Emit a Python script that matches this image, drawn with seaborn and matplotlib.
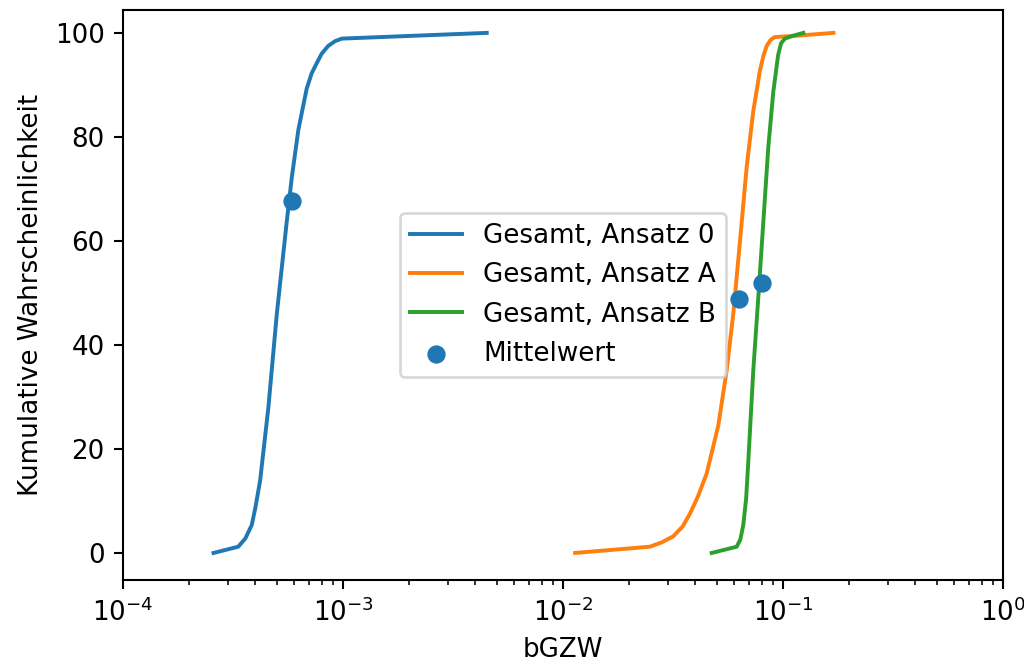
import matplotlib
matplotlib.use("Agg")
import matplotlib.pyplot as plt
import seaborn as sns

# Cumulative distributions of bGZW for the three approaches
x_ansatz0 = [2.58e-4, 3.34e-4, 3.6e-4, 3.85e-4, 4.0e-4, 4.2e-4, 4.58e-4, 5.0e-4,
             5.55e-4, 5.85e-4, 6.27e-4, 6.84e-4, 7.2e-4, 7.6e-4, 8.0e-4, 8.57e-4,
             9.2e-4, 9.87e-4, 4.5e-3]
y_ansatz0 = [0, 1.2, 2.8, 5.4, 8.8, 13.9, 28, 45.9, 63.7, 72.2, 81.4, 89.3, 92.2,
             94.2, 96.0, 97.5, 98.4, 98.9, 100]

x_ansatzA = [1.135e-2, 2.48e-2, 2.8e-2, 3.17e-2, 3.5e-2, 3.77e-2, 4.1e-2, 4.5e-2,
             5.08e-2, 5.55e-2, 5.94e-2, 6.38e-2, 6.84e-2, 7.33e-2, 7.86e-2, 8.15e-2,
             8.43e-2, 8.8e-2, 9.2e-2, 0.111, 0.1695]
y_ansatzA = [0, 1.2, 2.0, 3.2, 5.1, 7.5, 10.8, 15.3, 24.5, 35.2, 45.9, 60.1, 74.3,
             85, 92.8, 95.6, 97.5, 98.7, 99.2, 99.4, 100]

x_ansatzB = [4.74e-2, 6.16e-2, 6.4e-2, 6.6e-2, 6.8e-2, 6.95e-2, 7.33e-2, 7.73e-2,
             8.14e-2, 8.57e-2, 9.03e-2, 9.5e-2, 9.8e-2, 0.102, 0.11, 0.1237]
y_ansatzB = [0, 1.2, 2.6, 5.4, 10.5, 17.4, 35.2, 49.4, 63.7, 77.9, 88.6, 95.7, 98.0,
             98.9, 99.4, 100]

# Mean values and their cumulative probabilities
mean_x = [5.85e-4, 6.33e-2, 8.0e-2]
mean_y = [67.6, 48.8, 51.9]

labels = ["Gesamt, Ansatz 0", "Gesamt, Ansatz A", "Gesamt, Ansatz B"]

dpi = 188
fig = plt.figure(figsize=(1024 / dpi, 668 / dpi), dpi=dpi)
ax = fig.add_axes([123 / 1024, 88 / 668, 880 / 1024, 570 / 668])

for xs, ys, lab, col in zip([x_ansatz0, x_ansatzA, x_ansatzB],
                            [y_ansatz0, y_ansatzA, y_ansatzB],
                            labels, ["C0", "C1", "C2"]):
    sns.lineplot(x=xs, y=ys, ax=ax, label=lab, color=col, sort=False,
                 estimator=None, linewidth=1.5)

sns.scatterplot(x=mean_x, y=mean_y, ax=ax, color="C0", s=36, edgecolor="C0",
                linewidth=1.0, label="Mittelwert", zorder=3)

ax.set_xscale("log")
ax.set_xlim(1e-4, 1e0)
ax.set_ylim(-5.2, 104.4)
ax.set_xlabel("bGZW")
ax.set_ylabel("Kumulative Wahrscheinlichkeit")
ax.legend(loc="center")

fig.savefig("out.png", dpi=dpi)
